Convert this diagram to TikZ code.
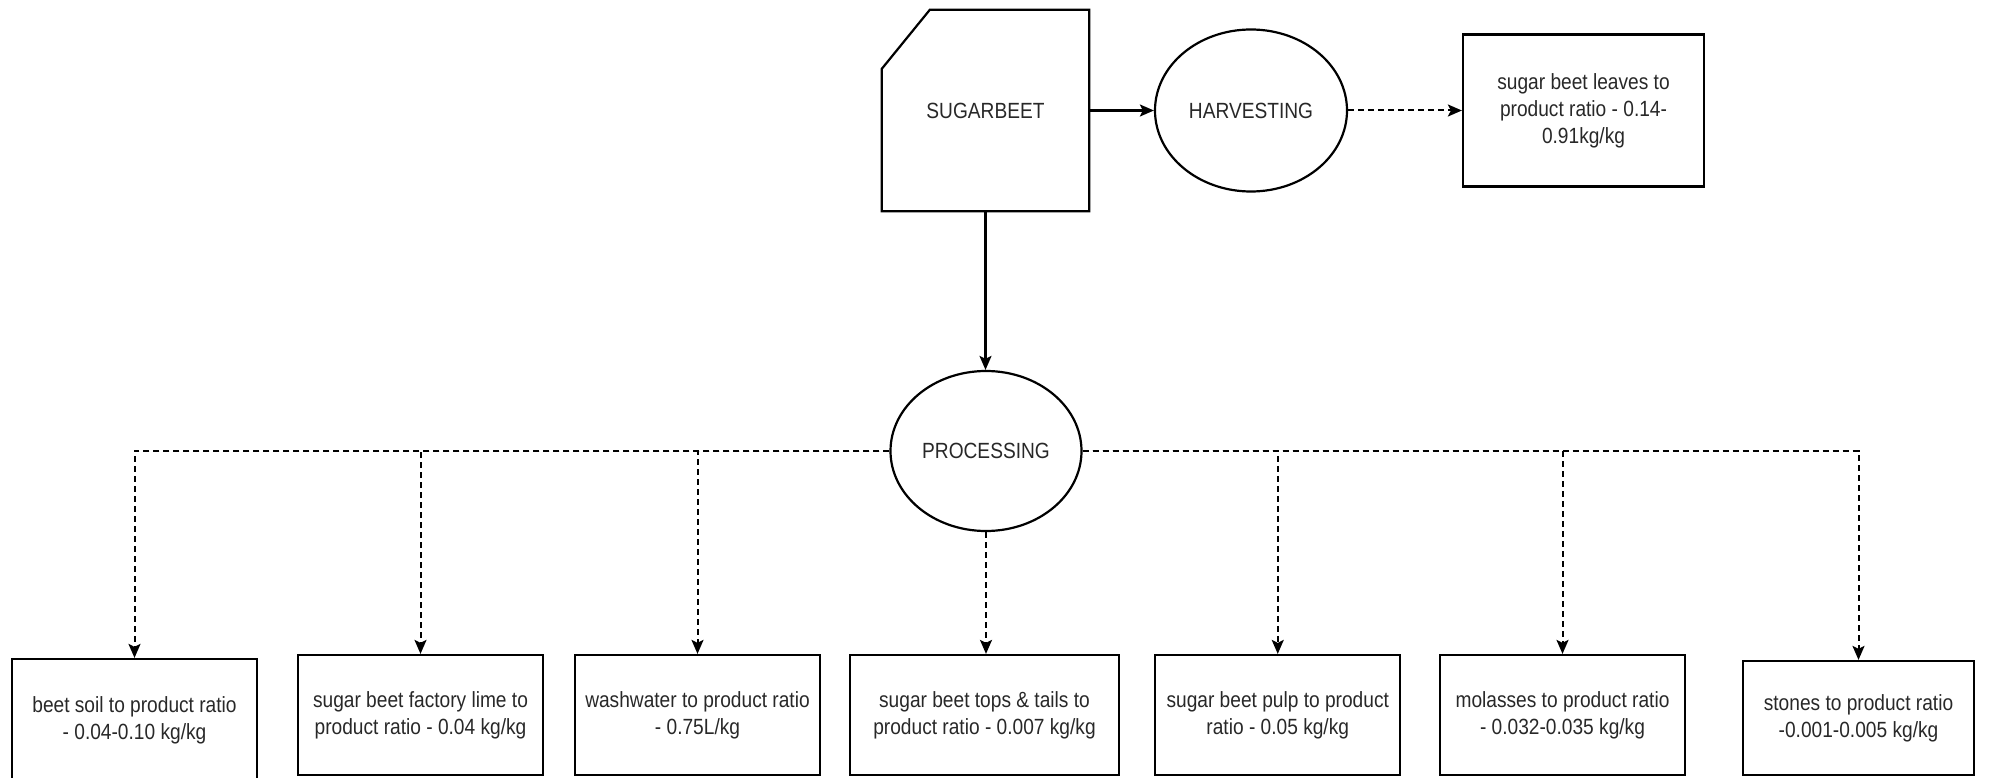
\documentclass[tikz,border=0pt]{standalone}
\usepackage{fontspec}
\setmainfont{Liberation Sans}[FakeStretch=0.87]
\usetikzlibrary{shapes.geometric,arrows.meta}
\definecolor{txt}{RGB}{40,40,40}
\begin{document}
\begin{tikzpicture}[x=1pt,y=-1pt,
  every node/.style={font=\fontsize{22}{27}\selectfont, text=txt},
  box/.style={draw, line width=2.2pt, rectangle, align=center, inner sep=0pt},
  oval/.style={draw, line width=2.2pt, ellipse, inner sep=0pt},
  tipstyle/.style={-{Stealth[length=14pt,width=12pt,inset=3pt]}},
  solidarrow/.style={line width=2.2pt, tipstyle},
  dasharrow/.style={line width=2pt, dash pattern=on 6pt off 4pt, tipstyle}
]
\useasboundingbox (0,0) rectangle (1995,778);
\clip (0,0) rectangle (1995,778);

% top row
\node[inner sep=0pt, minimum width=207pt, minimum height=201pt] (sb) at (985.5,110.5) {SUGARBEET};
\draw[line width=2.2pt] ([yshift=-59pt]sb.north west) -- ([xshift=48pt]sb.north west)
   -- (sb.north east) -- (sb.south east) -- (sb.south west) -- cycle;
\node[oval, minimum width=192pt, minimum height=162pt] (harv) at (1251,110.5) {HARVESTING};
\node[box, minimum width=241pt, minimum height=152pt] (leaves) at (1583.5,110.5)
  {sugar beet leaves to\\product ratio - 0.14-\\0.91kg/kg};

% processing
\node[oval, minimum width=191pt, minimum height=160pt] (proc) at (986,451) {PROCESSING};

% bottom row
\node[box, minimum width=245pt, minimum height=122pt] (b1) at (134.5,720)
  {beet soil to product ratio\\- 0.04-0.10 kg/kg};
\node[box, minimum width=245pt, minimum height=120pt] (b2) at (420.5,715)
  {sugar beet factory lime to\\product ratio - 0.04 kg/kg};
\node[box, minimum width=245pt, minimum height=120pt] (b3) at (697.5,715)
  {washwater to product ratio\\- 0.75L/kg};
\node[box, minimum width=269pt, minimum height=120pt] (b4) at (984.5,715)
  {sugar beet tops \& tails to\\product ratio - 0.007 kg/kg};
\node[box, minimum width=245pt, minimum height=120pt] (b5) at (1277.75,715)
  {sugar beet pulp to product\\ratio - 0.05 kg/kg};
\node[box, minimum width=245pt, minimum height=120pt] (b6) at (1562.5,715)
  {molasses to product ratio\\- 0.032-0.035 kg/kg};
\node[box, minimum width=231pt, minimum height=114pt] (b7) at (1858.5,718)
  {stones to product ratio\\-0.001-0.005 kg/kg};

% connectors
\draw[solidarrow] (sb.east) -- (harv.west);
\draw[dasharrow] (harv.east) -- (leaves.west);
\draw[solidarrow] (sb.south) -- (sb.south |- proc.north);

\draw[dasharrow] (proc.west) -| (b1.north);
\draw[dasharrow] (proc.west) -| (b2.north);
\draw[dasharrow] (proc.west) -| (b3.north);
\draw[dasharrow] (proc.south) -- (proc.south |- b4.north);
\draw[dasharrow] (proc.east) -| (b5.north);
\draw[dasharrow] (proc.east) -| (b6.north);
\draw[dasharrow] (proc.east) -| (b7.north);
\end{tikzpicture}
\end{document}
